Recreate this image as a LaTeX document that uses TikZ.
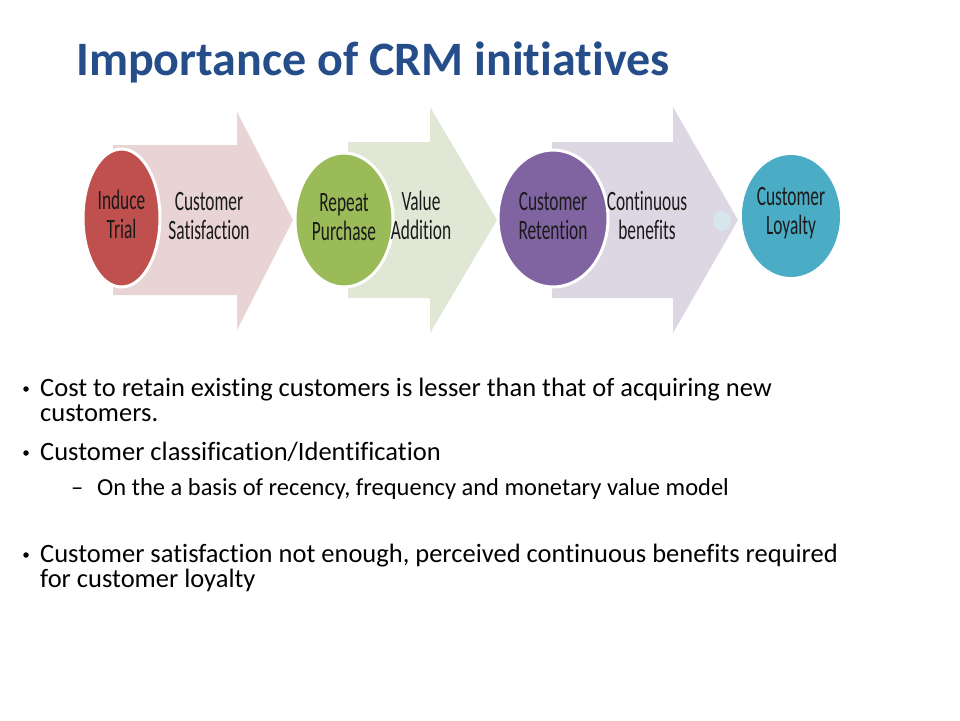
\documentclass[tikz,border=0pt]{standalone}
\usepackage{fontspec}
\setmainfont{Carlito}[Ligatures=NoCommon]
\usepackage{graphicx}
\usetikzlibrary{shapes.geometric}
\definecolor{titleblue}{HTML}{244D8A}
\definecolor{cred}{HTML}{C0504D}
\definecolor{cgreen}{HTML}{9BBB59}
\definecolor{cpurple}{HTML}{8064A2}
\definecolor{cteal}{HTML}{4BACC6}
\definecolor{apink}{HTML}{E8D3D5}
\definecolor{agreen}{HTML}{E0E8D5}
\definecolor{apurple}{HTML}{DDD7E3}
\definecolor{ablob}{HTML}{D6E6EC}
\definecolor{ink}{HTML}{1A1A1A}
\newcommand\sqtext[1]{\scalebox{0.62}[1]{\fontsize{28}{29}\selectfont\begin{tabular}{@{}c@{}}#1\end{tabular}}}
\tikzset{
  bubble/.style={ellipse, draw=white, line width=3pt, inner sep=0pt},
  lbl/.style={text=ink, inner sep=0pt},
  dot/.style={circle, fill=black, inner sep=0pt, minimum size=5.5pt},
  bul/.style={anchor=base west, inner sep=0pt, font=\fontsize{26.5}{27}\selectfont, text=black},
  subbul/.style={anchor=base west, inner sep=0pt, font=\fontsize{24.5}{25}\selectfont, text=black},
}
\begin{document}
\begin{tikzpicture}[x=1pt,y=-1pt]
\useasboundingbox[fill=white] (0,0) rectangle (960,720);
% title
\node[anchor=base west, inner sep=0pt, text=titleblue, font=\fontsize{48}{52}\selectfont\bfseries] (title) at (76,75) {Importance of CRM initiatives};
% arrows
\fill[apink] (113,145) -- (237,145) -- (237,112) -- (293,220) -- (237,330) -- (237,295) -- (113,295) -- cycle;
\fill[agreen] (348,142) -- (430,142) -- (430,107) -- (497,220) -- (430,333) -- (430,298) -- (348,298) -- cycle;
\fill[apurple] (552,142) -- (673,142) -- (673,107) -- (738,220) -- (673,333) -- (673,298) -- (552,298) -- cycle;
\fill[ablob] (722,221) ellipse[x radius=9, y radius=10];
% circles
\node[bubble, fill=cred, minimum width=77pt, minimum height=138pt] (c1) at (121.5,218) {};
\node[bubble, fill=cgreen, minimum width=98pt, minimum height=134pt] (c2) at (344,220) {};
\node[bubble, fill=cpurple, minimum width=110pt, minimum height=137pt] (c3) at (553,218.5) {};
\node[bubble, fill=cteal, minimum width=98pt, minimum height=122pt, draw=none] (c4) at (791,216) {};
% labels
\node[lbl] (t1) at (c1) {\sqtext{Induce\\Trial}};
\node[lbl] (a1) at (209,219) {\sqtext{Customer\\Satisfaction}};
\node[lbl] (t2) at (c2) {\sqtext{Repeat\\Purchase}};
\node[lbl] (a2) at (421,219) {\sqtext{Value\\Addition}};
\node[lbl] (t3) at (553,219) {\sqtext{Customer\\Retention}};
\node[lbl] (a3) at (647,219) {\sqtext{Continuous\\benefits}};
\node[lbl] (t4) at (791,214) {\sqtext{Customer\\Loyalty}};
% bullets
\node[dot] (d1) at (26,389) {};
\node[bul] (b1a) at (40,396) {Cost to retain existing customers is lesser than that of acquiring new};
\node[bul] (b1b) at (40,421) {customers.};
\node[dot] (d2) at (26,453) {};
\node[bul] (b2) at (40,460) {Customer classification/Identification};
\node[subbul] (d21) at (71,495) {–};
\node[subbul] (b21) at (97,495) {On the a basis of recency, frequency and monetary value model};
\node[dot] (d3) at (26,555) {};
\node[bul] (b3a) at (40,562) {Customer satisfaction not enough, perceived continuous benefits required};
\node[bul] (b3b) at (40,587) {for customer loyalty};
\end{tikzpicture}
\end{document}
